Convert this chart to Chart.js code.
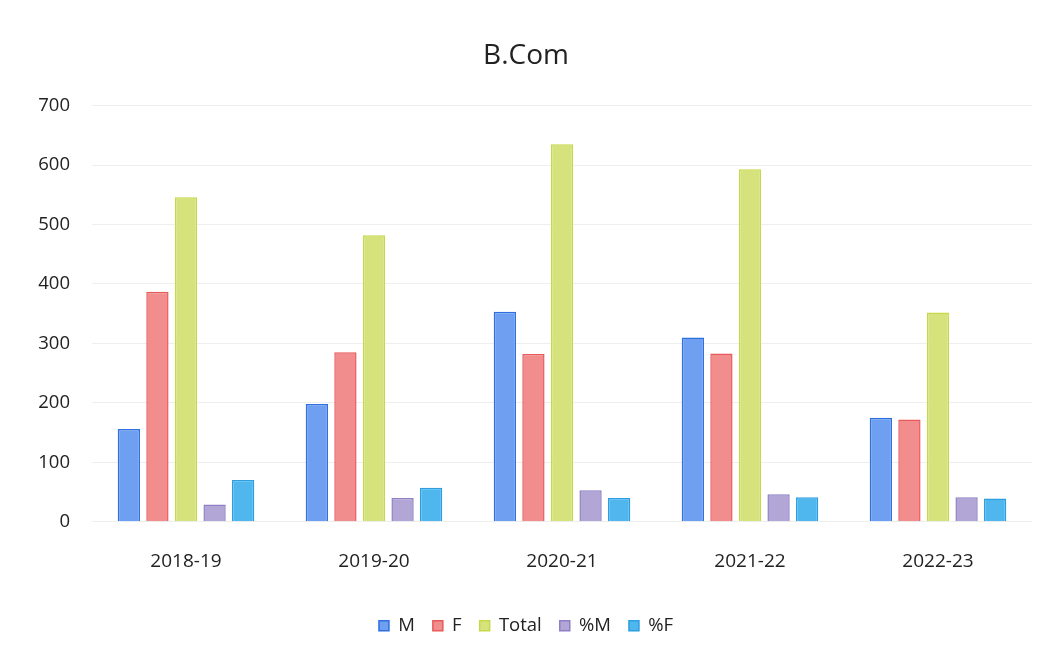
<!DOCTYPE html>
<html>
<head>
<meta charset="utf-8">
<script src="https://cdn.jsdelivr.net/npm/chart.js@4"></script>
<style>
  html, body { margin: 0; padding: 0; background: #fff; }
  #wrap { width: 1053px; height: 664px; position: relative; }
</style>
</head>
<body>
<div id="wrap"><canvas id="chart" width="1053" height="664"></canvas></div>
<script>
// Data
const years = ['2018-19', '2019-20', '2020-21', '2021-22', '2022-23'];
const male = [156, 198, 353, 310, 175];
const female = [387, 285, 282, 283, 172];
const total = [546, 482, 635, 593, 352];
const pctMale = [29, 40, 53, 46, 41];
const pctFemale = [70, 57, 40, 41, 39];
const yTicks = [0, 100, 200, 300, 400, 500, 600, 700];

const font = "'Open Sans', 'Noto Sans', sans-serif";

function series(label, data, fill, edge) {
  return {
    label, data,
    backgroundColor: fill,
    borderColor: edge,
    borderWidth: 1.5,
    barPercentage: 0.78,
    categoryPercentage: 0.76,
  };
}

new Chart(document.getElementById('chart'), {
  type: 'bar',
  data: {
    labels: years,
    datasets: [
      series('M', male, '#6e9ff0', '#2f6fe0'),
      series('F', female, '#f28d8d', '#e85a5a'),
      series('Total', total, '#d6e27c', '#c5d94a'),
      series('%M', pctMale, '#b1a6d6', '#8f80c4'),
      series('%F', pctFemale, '#4fb6ee', '#2c9fe2'),
    ],
  },
  options: {
    responsive: false,
    animation: false,
    layout: { padding: { left: 20, right: 21, top: 20, bottom: 19 } },
    plugins: {
      title: {
        display: true,
        text: 'B.Com',
        color: '#222',
        font: { family: font, size: 28, weight: 'normal' },
        padding: { top: 19, bottom: 33 },
      },
      legend: {
        position: 'bottom',
        labels: {
          color: '#222',
          font: { family: font, size: 18.5 },
          boxWidth: 10,
          boxHeight: 10,
          padding: 18,
        },
      },
      tooltip: { enabled: false },
    },
    scales: {
      x: {
        afterFit: (axis) => { axis.height += 6; },
        grid: { display: false },
        border: { display: false },
        ticks: { color: '#222', font: { family: font, size: 19 }, padding: 20 },
      },
      y: {
        min: 0,
        max: 700,
        afterBuildTicks: (axis) => { axis.ticks = yTicks.map(v => ({ value: v })); },
        afterFit: (axis) => { axis.width = 72; },
        grid: { color: '#eeeeee', drawTicks: false },
        border: { display: false },
        ticks: { color: '#222', font: { family: font, size: 18.5 }, padding: 22 },
      },
    },
  },
});
</script>
</body>
</html>
